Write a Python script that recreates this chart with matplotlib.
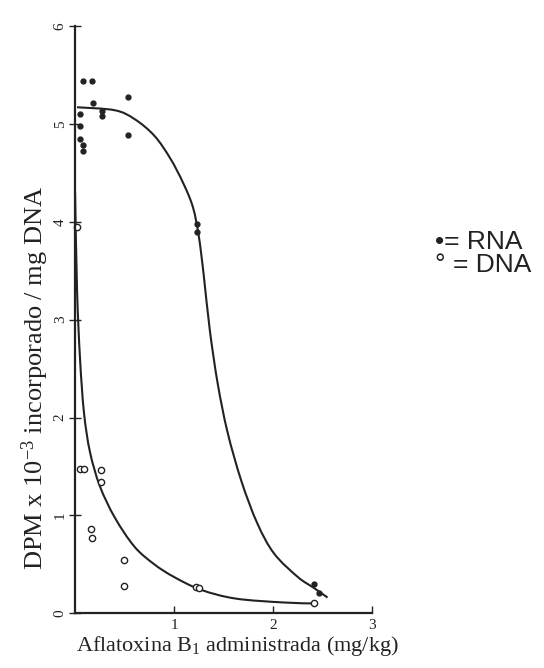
import matplotlib
matplotlib.use("Agg")
import matplotlib.pyplot as plt
from matplotlib.path import Path
from matplotlib.patches import PathPatch

plt.rcParams['mathtext.fontset'] = 'custom'
plt.rcParams['mathtext.rm'] = 'Liberation Serif'
plt.rcParams['mathtext.it'] = 'Liberation Serif:italic'

# RNA (filled points)
rna_x = [0.05, 0.05, 0.05, 0.08, 0.08, 0.08, 0.17, 0.18, 0.27, 0.27, 0.53, 0.53, 1.23, 1.23, 2.41, 2.46]
rna_y = [5.10, 4.98, 4.85, 4.78, 4.72, 5.44, 5.44, 5.21, 5.13, 5.08, 5.27, 4.89, 3.98, 3.90, 0.30, 0.21]

# DNA (open points)
dna_x = [0.02, 0.05, 0.09, 0.26, 0.26, 0.16, 0.17, 0.49, 0.49, 1.22, 1.25, 2.41]
dna_y = [3.95, 1.47, 1.47, 1.46, 1.34, 0.86, 0.77, 0.54, 0.28, 0.27, 0.26, 0.10]

# fitted curves
rna_curve_x = [0.02, 0.40, 0.60, 0.80, 0.96, 1.09, 1.19, 1.25, 1.30, 1.36, 1.44, 1.54, 1.68, 1.84, 2.01, 2.25, 2.41, 2.55]
rna_curve_y = [5.17, 5.14, 5.05, 4.88, 4.65, 4.40, 4.15, 3.85, 3.45, 2.90, 2.35, 1.85, 1.35, 0.92, 0.61, 0.37, 0.26, 0.16]
dna_curve_x = [0.00, 0.02, 0.05, 0.09, 0.15, 0.25, 0.40, 0.60, 0.80, 1.00, 1.27, 1.62, 2.10, 2.41]
dna_curve_y = [4.30, 3.30, 2.60, 2.05, 1.65, 1.30, 0.98, 0.68, 0.50, 0.37, 0.24, 0.15, 0.11, 0.10]

x_ticks = [1, 2, 3]
y_ticks = [0, 1, 2, 3, 4, 5, 6]

ink = "#222222"


def smooth_path(ax, xs, ys):
    """Draw a smooth (Catmull-Rom as cubic Bezier) path through the read points, in display space."""
    pts = ax.transData.transform(list(zip(xs, ys)))
    verts = [tuple(pts[0])]
    codes = [Path.MOVETO]
    n = len(pts)
    for i in range(n - 1):
        p0 = pts[i - 1] if i > 0 else pts[i]
        p1 = pts[i]
        p2 = pts[i + 1]
        p3 = pts[i + 2] if i + 2 < n else pts[i + 1]
        c1 = p1 + (p2 - p0) / 6.0
        c2 = p2 - (p3 - p1) / 6.0
        verts += [tuple(c1), tuple(c2), tuple(p2)]
        codes += [Path.CURVE4, Path.CURVE4, Path.CURVE4]
    patch = PathPatch(Path(verts, codes), facecolor='none', edgecolor=ink, lw=1.5,
                      transform=None)
    ax.add_artist(patch)


fig = plt.figure(figsize=(5.44, 6.68), dpi=100)
ax = fig.add_axes([0.138, 0.082, 0.546, 0.879])
ax.set_xlim(0, 3)
ax.set_ylim(0, 6)

smooth_path(ax, rna_curve_x, rna_curve_y)
smooth_path(ax, dna_curve_x, dna_curve_y)
ax.plot(rna_x, rna_y, 'o', ms=3.5, color=ink, mec=ink, clip_on=False)
ax.plot(dna_x, dna_y, 'o', ms=4.5, mfc='white', mec=ink, mew=1.0, clip_on=False)

for s in ['top', 'right']:
    ax.spines[s].set_visible(False)
for s in ['left', 'bottom']:
    ax.spines[s].set_color(ink)
    ax.spines[s].set_linewidth(1.6)

ax.set_xticks(x_ticks)
ax.set_yticks(y_ticks)
ax.tick_params(axis='x', direction='in', length=5, width=1, colors=ink, labelsize=11, pad=4)
ax.tick_params(axis='y', direction='inout', length=8, width=1, colors=ink, labelsize=11, pad=2)
for lab in ax.get_xticklabels() + ax.get_yticklabels():
    lab.set_fontfamily('Liberation Serif')
for lab in ax.get_yticklabels():
    lab.set_rotation(90)
    lab.set_va('center')

ax.set_ylabel("DPM x 10$^{-3}$ incorporado / mg DNA", fontfamily='Liberation Serif',
              fontsize=19, color=ink)
ax.yaxis.set_label_coords(-0.08, 0.40)
ax.set_xlabel("Aflatoxina B$_1$ administrada (mg/kg)", fontfamily='Liberation Serif',
              fontsize=16, color=ink)
ax.xaxis.set_label_coords(0.545, -0.035)

fig.text(0.800, 0.637, "\u2022= RNA", fontfamily='Liberation Sans', fontsize=19, color=ink,
         va='center', ha='left')
fig.text(0.800, 0.603, "\u00b0 = DNA", fontfamily='Liberation Sans', fontsize=19, color=ink,
         va='center', ha='left')

fig.savefig("out.png", dpi=100, facecolor='white')
